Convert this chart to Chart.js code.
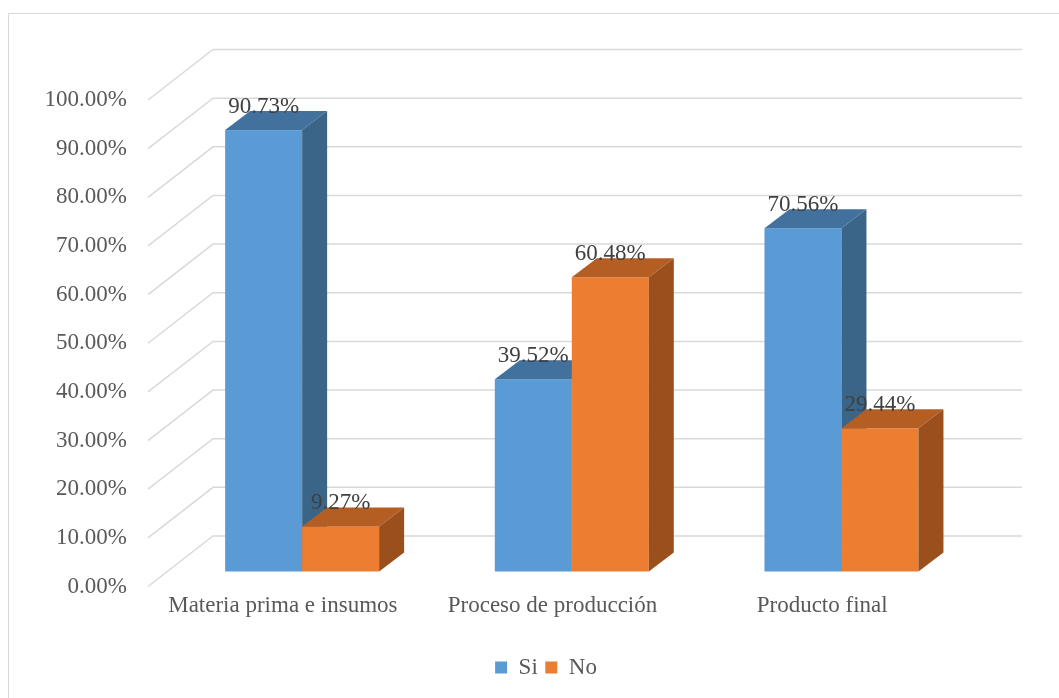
<!DOCTYPE html>
<html>
<head>
<meta charset="utf-8">
<script src="https://cdn.jsdelivr.net/npm/chart.js@4/dist/chart.umd.min.js"></script>
<style>
  html, body { margin: 0; padding: 0; background: #ffffff; }
  #wrap { position: relative; width: 1059px; height: 698px; overflow: hidden; }
  #frame { position: absolute; left: 8px; top: 13px; width: 1100px; height: 700px;
           border-left: 1.5px solid #d9d9d9; border-top: 1.5px solid #d9d9d9; }
  #c { position: absolute; left: 0; top: 0; }
</style>
</head>
<body>
<div id="wrap">
  <div id="frame"></div>
  <canvas id="c" width="1059" height="698"></canvas>
</div>
<script>
const categories = ['Materia prima e insumos', 'Proceso de producción', 'Producto final'];
const seriesNames = ['Si', 'No'];
const siValues = [90.73, 39.52, 70.56];
const noValues = [9.27, 60.48, 29.44];
const yMin = 0;
const yMax = 100;
const yStep = 10;

const FONT = '"Liberation Serif", "Times New Roman", serif';
const frontColors = ['#5B9BD5', '#ED7D31'];
const topColors = ['#42719E', '#B55E24'];
const sideColors = ['#3A6488', '#9A4F1D'];

const geo = { wallDx: 65, wallDy: -50.5, barDx: 19.3, barDy: -15, sideDx: 25, sideDy: -19 };
const legendCenterX = 546;

const threeD = {
  id: 'threeD',
  afterLayout(chart) {
    const lg = chart.legend;
    if (lg) {
      const shift = legendCenterX - (lg.left + lg.right) / 2;
      lg.left += shift;
      lg.right += shift;
    }
  },
  beforeDatasetsDraw(chart) {
    const ctx = chart.ctx, y = chart.scales.y, area = chart.chartArea;
    ctx.save();
    ctx.strokeStyle = '#d9d9d9';
    ctx.lineWidth = 1.5;
    const wallRight = area.right + geo.wallDx;
    y.ticks.forEach(t => {
      const py = y.getPixelForValue(t.value);
      ctx.beginPath();
      ctx.moveTo(area.left, py);
      ctx.lineTo(area.left + geo.wallDx, py + geo.wallDy);
      ctx.lineTo(wallRight, py + geo.wallDy);
      ctx.stroke();
    });
    ctx.restore();
  },
  beforeDatasetDraw() { return false; },
  afterDatasetsDraw(chart) {
    const ctx = chart.ctx;
    ctx.save();
    const labels = [];
    chart.data.datasets.forEach((ds, di) => {
      const meta = chart.getDatasetMeta(di);
      meta.data.forEach((bar, i) => {
        const w = bar.width;
        const x0 = bar.x - w / 2 + geo.barDx, x1 = bar.x + w / 2 + geo.barDx;
        const yt = bar.y + geo.barDy, yb = bar.base + geo.barDy;
        ctx.fillStyle = frontColors[di];
        ctx.fillRect(x0, yt, x1 - x0, yb - yt);
        ctx.fillStyle = topColors[di];
        ctx.beginPath();
        ctx.moveTo(x0, yt);
        ctx.lineTo(x0 + geo.sideDx, yt + geo.sideDy);
        ctx.lineTo(x1 + geo.sideDx, yt + geo.sideDy);
        ctx.lineTo(x1, yt);
        ctx.closePath();
        ctx.fill();
        ctx.fillStyle = sideColors[di];
        ctx.beginPath();
        ctx.moveTo(x1, yt);
        ctx.lineTo(x1 + geo.sideDx, yt + geo.sideDy);
        ctx.lineTo(x1 + geo.sideDx, yb + geo.sideDy);
        ctx.lineTo(x1, yb);
        ctx.closePath();
        ctx.fill();
        labels.push({ x: (x0 + x1) / 2, y: yt + geo.sideDy + 2, text: ds.data[i].toFixed(2) + '%' });
      });
    });
    ctx.fillStyle = '#404040';
    ctx.font = '23px ' + FONT;
    ctx.textAlign = 'center';
    ctx.textBaseline = 'alphabetic';
    labels.forEach(l => ctx.fillText(l.text, l.x, l.y));
    ctx.restore();
  }
};

new Chart(document.getElementById('c'), {
  type: 'bar',
  data: {
    labels: categories,
    datasets: [
      { label: seriesNames[0], data: siValues, backgroundColor: frontColors[0], borderWidth: 0 },
      { label: seriesNames[1], data: noValues, backgroundColor: frontColors[1], borderWidth: 0 }
    ]
  },
  options: {
    responsive: false,
    animation: false,
    events: [],
    layout: { padding: { left: 0, right: 102, top: 100, bottom: 9 } },
    datasets: { bar: { categoryPercentage: 0.571, barPercentage: 1.0 } },
    scales: {
      x: {
        grid: { display: false, drawTicks: false },
        border: { display: false },
        ticks: { color: '#595959', font: { family: FONT, size: 23 }, padding: 6, maxRotation: 0, autoSkip: false },
        afterFit(scale) { scale.height = 62; }
      },
      y: {
        min: yMin, max: yMax,
        grid: { display: false, drawTicks: false },
        border: { display: false },
        ticks: {
          stepSize: yStep,
          color: '#595959',
          font: { family: FONT, size: 23 },
          padding: 21,
          callback: v => v.toFixed(2) + '%'
        },
        afterFit(scale) { scale.width = 148; }
      }
    },
    plugins: {
      legend: {
        position: 'bottom',
        labels: {
          boxWidth: 12, boxHeight: 12, padding: 7.5,
          color: '#595959',
          font: { family: FONT, size: 23 }
        }
      },
      tooltip: { enabled: false }
    }
  },
  plugins: [threeD]
});
</script>
</body>
</html>
